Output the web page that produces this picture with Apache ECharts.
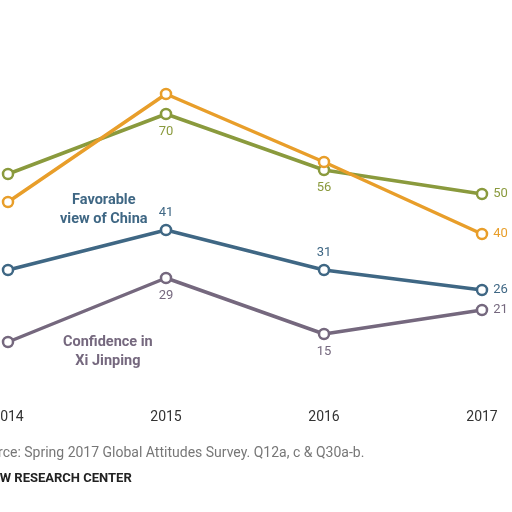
<!DOCTYPE html>
<html><head><meta charset="utf-8">
<script src="https://cdn.jsdelivr.net/npm/echarts@6/dist/echarts.min.js"></script>
<style>html,body{margin:0;background:#fff}#c{width:512px;height:512px}</style>
</head><body><div id="c"></div>
<script>
const years = [2014, 2015, 2016, 2017];
const greenVals = [55, 70, 56, 50];
const orangeVals = [48, 75, 58, 40];
const favorableChina = [31, 41, 31, 26];
const confidenceXi = [13, 29, 15, 21];

function mk(name, vals, color, midPos, shown) {
  return {
    name: name, type: 'line', color: color,
    data: years.map((y, i) => ({
      value: [y, vals[i]],
      label: { show: shown.includes(y), position: y === 2017 ? 'right' : midPos }
    })),
    symbol: 'circle', symbolSize: 10,
    lineStyle: { width: 3.5, color: color },
    itemStyle: { color: '#fff', borderColor: color, borderWidth: 2.5 },
    label: { color: color, fontSize: 13, fontFamily: 'Roboto', formatter: p => p.value[1] },
    animation: false
  };
}

const chart = echarts.init(document.getElementById('c'));
chart.setOption({
  backgroundColor: '#fff',
  grid: { left: 8, right: 30, top: 34, height: 360, outerBoundsMode: 'none', containLabel: false },
  xAxis: {
    type: 'value', min: 2014, max: 2017, interval: 1,
    axisLine: { show: false }, axisTick: { show: false }, splitLine: { show: false },
    axisLabel: { color: '#333', fontSize: 14, fontFamily: 'Roboto', margin: 16, formatter: v => String(v) }
  },
  yAxis: { type: 'value', min: 0, max: 90, show: false },
  series: [
    mk('green', greenVals, '#8a9a3d', 'bottom', [2015, 2016, 2017]),
    mk('orange', orangeVals, '#e89e2a', 'top', [2017]),
    mk('Favorable view of China', favorableChina, '#3f6784', 'top', [2015, 2016, 2017]),
    mk('Confidence in Xi Jinping', confidenceXi, '#75687e', 'bottom', [2015, 2016, 2017])
  ],
  graphic: [
    { type: 'text', left: 60, top: 191, style: { text: 'Favorable\nview of China', fill: '#3f6784', font: 'bold 14.5px Roboto', lineHeight: 19, textAlign: 'center' } },
    { type: 'text', left: 63, top: 333, style: { text: 'Confidence in\nXi Jinping', fill: '#75687e', font: 'bold 14.5px Roboto', lineHeight: 19, textAlign: 'center' } },
    { type: 'text', left: -26, top: 446, style: { text: 'Source: Spring 2017 Global Attitudes Survey. Q12a, c & Q30a-b.', fill: '#777', font: '14px Roboto' } },
    { type: 'text', left: -16, top: 472, style: { text: 'PEW RESEARCH CENTER', fill: '#222', font: 'bold 13px Roboto' } }
  ]
});
</script></body></html>
